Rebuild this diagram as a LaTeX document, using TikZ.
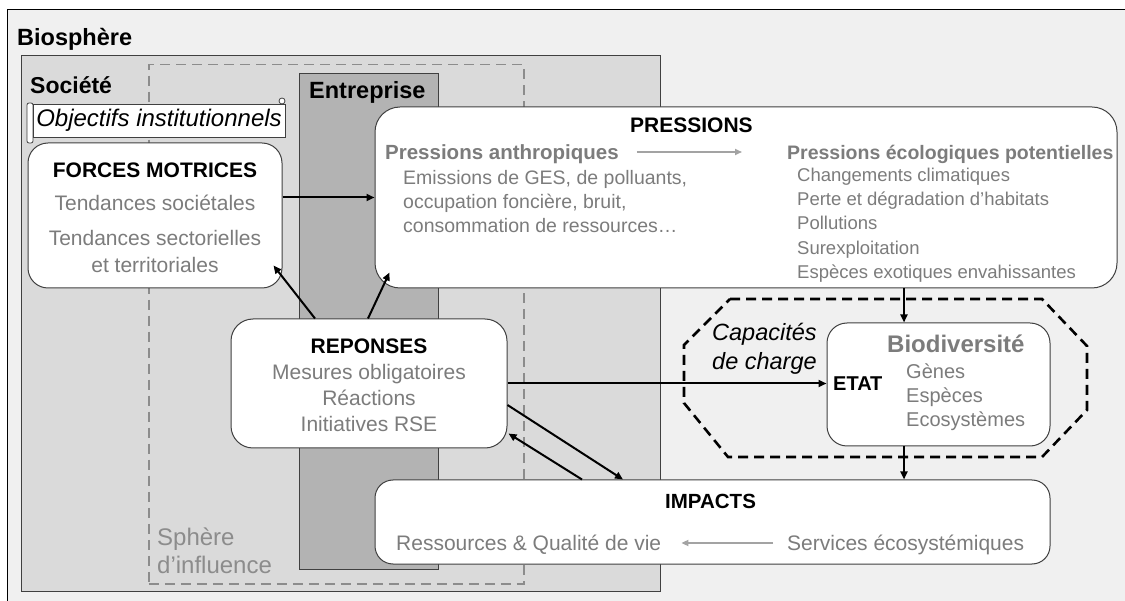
\documentclass[tikz,border=0pt]{standalone}
\usepackage{fontspec}
\setmainfont{Liberation Sans}
\usetikzlibrary{arrows.meta,calc}
\definecolor{biofill}{HTML}{F0F0F0}
\definecolor{socfill}{HTML}{DADADA}
\definecolor{entfill}{HTML}{B3B3B3}
\definecolor{txtgray}{HTML}{7C7C7C}
\definecolor{edgegray}{HTML}{404040}
\definecolor{dashgray}{HTML}{8C8C8C}
\newcommand\fsz[1]{\fontsize{#1}{#1}\selectfont}
\begin{document}
\begin{tikzpicture}[x=1pt,y=-1pt,
  region/.style={draw=edgegray,line width=1pt,inner sep=0pt,anchor=north west},
  box/.style={draw=edgegray,line width=1pt,fill=white,rounded corners=#1,inner sep=0pt},
  tx/.style={inner sep=0pt,font=\fsz{#1},text height={0.72*#1pt},text depth=0pt},
  gtx/.style={tx=#1,text=txtgray},
  conn/.style={line width=2pt,-{Triangle[length=8pt,width=7pt]}},
  gconn/.style={line width=1.6pt,draw=txtgray!70,-{Triangle[length=7pt,width=6pt]}}
]
\useasboundingbox (0,0) rectangle (1125,601);
\fill[white] (0,0) rectangle (1125,601);
% Biosphere
\node[fill=biofill,inner sep=0pt,anchor=north west,minimum width=1118pt,minimum height=591pt] (biosph) at (7,10) {};
\draw[line width=1pt] (biosph.south west) -- (biosph.north west) -- (biosph.north east);
\node[tx=23.5,font=\bfseries\fsz{23.5},anchor=west] (biolbl) at (17,37) {Biosphère};
% Societe
\node[region,fill=socfill,minimum width=639pt,minimum height=536pt] (soc) at (21,55) {};
\node[tx=23,font=\bfseries\fsz{23},anchor=west] (soclbl) at (30,85) {Société};
% Sphere d'influence
\node[draw=dashgray,line width=1.5pt,dash pattern=on 10pt off 6pt,inner sep=0pt,anchor=north west,minimum width=375pt,minimum height=519pt] (sph) at (148,64) {};
\node[gtx=24,anchor=west,text=dashgray] (sph1) at (157,537) {Sphère};
\node[gtx=24,anchor=west,text=dashgray] (sph2) at (157,565) {d’influence};
% Entreprise
\node[region,fill=entfill,minimum width=139pt,minimum height=496pt] (ent) at (299,73) {};
\node[tx=23.5,font=\bfseries\fsz{23.5},anchor=west] (entlbl) at (309,90) {Entreprise};
% Objectifs (scroll)
\node[draw=edgegray,line width=0.8pt,fill=white,rounded corners=2pt,minimum width=6pt,minimum height=40pt,inner sep=0pt] (objroll) at (30,123) {};
\node[draw=edgegray,line width=0.8pt,fill=white,inner sep=0pt,minimum width=252pt,minimum height=33pt,font=\itshape\fsz{24}] (obj) at (159,120.5) {Objectifs institutionnels};
\node[draw=edgegray,line width=0.8pt,fill=white,circle,inner sep=0pt,minimum size=6pt] (objcurl) at (282,101) {};
% Forces motrices
\node[box=20pt,minimum width=254pt,minimum height=145pt] (fm) at (155,215.5) {};
\node[tx=21,font=\bfseries\fsz{21}] (fmt) at (155,170) {FORCES MOTRICES};
\node[gtx=21] (fm1) at (155,203) {Tendances sociétales};
\node[gtx=21] (fm2) at (155,238) {Tendances sectorielles};
\node[gtx=21] (fm3) at (155,265) {et territoriales};
% Pressions
\node[box=25pt,minimum width=742pt,minimum height=181pt] (pr) at (746,197.5) {};
\node[tx=21,font=\bfseries\fsz{21},anchor=west] (prt) at (630,125) {PRESSIONS};
\node[gtx=20.5,font=\bfseries\fsz{20.5},anchor=west] (pa) at (385,152) {Pressions anthropiques};
\node[gtx=19.5,font=\bfseries\fsz{19.5},anchor=west] (pe) at (787,152) {Pressions écologiques potentielles};
\draw[gconn,shorten <=18pt,shorten >=45pt] (pa.east) -- (pe.west);
\node[gtx=19.5,anchor=west] (pa1) at (403,177) {Emissions de GES, de polluants,};
\node[gtx=19.5,anchor=west] (pa2) at (403,201) {occupation foncière, bruit,};
\node[gtx=19.5,anchor=west] (pa3) at (403,225) {consommation de ressources…};
\node[gtx=18.5,anchor=west] (pe1) at (797,175) {Changements climatiques};
\node[gtx=18.5,anchor=west] (pe2) at (797,199) {Perte et dégradation d’habitats};
\node[gtx=18.5,anchor=west] (pe3) at (797,223) {Pollutions};
\node[gtx=18.5,anchor=west] (pe4) at (797,248) {Surexploitation};
\node[gtx=18.5,anchor=west] (pe5) at (797,272) {Espèces exotiques envahissantes};
% Octagon (capacites de charge)
\draw[line width=2.6pt,dash pattern=on 10pt off 6pt] (730,299) -- (1042,299) -- (1087,346) -- (1087,410) -- (1042,457) -- (728,457) -- (684,403) -- (684,345) -- cycle;
\node[tx=23.5,font=\itshape\fsz{23.5},anchor=west] (cap1) at (712,332) {Capacités};
\node[tx=23.5,font=\itshape\fsz{23.5},anchor=west] (cap2) at (712,361) {de charge};
% Biodiversite / Etat
\node[box=20pt,minimum width=223pt,minimum height=123pt] (bio) at (938.5,384.5) {};
\node[tx=20,font=\bfseries\fsz{20},anchor=west] (etat) at (833,383) {ETAT};
\node[gtx=24,font=\bfseries\fsz{24},anchor=west] (biot) at (887,344) {Biodiversité};
\node[gtx=20,anchor=west] (bio1) at (906,371) {Gènes};
\node[gtx=20,anchor=west] (bio2) at (906,395) {Espèces};
\node[gtx=20,anchor=west] (bio3) at (906,419) {Ecosystèmes};
% Reponses
\node[box=22pt,minimum width=276pt,minimum height=129pt] (rep) at (369,383.5) {};
\node[tx=21,font=\bfseries\fsz{21}] (rept) at (369,346) {REPONSES};
\node[gtx=21] (rep1) at (369,372) {Mesures obligatoires};
\node[gtx=21] (rep2) at (369,398) {Réactions};
\node[gtx=21] (rep3) at (369,424) {Initiatives RSE};
% Impacts
\node[box=18pt,minimum width=675pt,minimum height=84pt] (imp) at (712.5,522) {};
\node[tx=20.5,font=\bfseries\fsz{20.5},anchor=west] (impt) at (665,501) {IMPACTS};
\node[gtx=21,anchor=west] (imp1) at (396,543) {Ressources \& Qualité de vie};
\node[gtx=21,anchor=west] (imp2) at (787,543) {Services écosystémiques};
\draw[gconn,shorten <=14pt,shorten >=20pt] (imp2.west) -- (imp1.east);
% Connectors
\draw[conn] (fm.east |- pr.west) -- (pr.west);
\draw[conn] ([xshift=-54pt]rep.north) -- ([xshift=-9pt,yshift=23pt]fm.south east);
\draw[conn] ([xshift=-1pt]rep.north) -- ([xshift=15pt,yshift=16pt]pr.south west);
\draw[conn] (rep.east) -- (rep.east -| bio.west);
\draw[conn] ([xshift=-34.5pt]bio.north |- pr.south) -- ([xshift=-34.5pt]bio.north);
\draw[conn] ([xshift=-34.5pt]bio.south) -- ([xshift=-34.5pt]bio.south |- imp.north);
\draw[conn] ([yshift=-21.5pt]rep.east) -- ([xshift=-89.5pt]imp.north);
\draw[conn] ([xshift=-130.5pt]imp.north) -- ([xshift=1pt,yshift=15pt]rep.south east);
\end{tikzpicture}
\end{document}
